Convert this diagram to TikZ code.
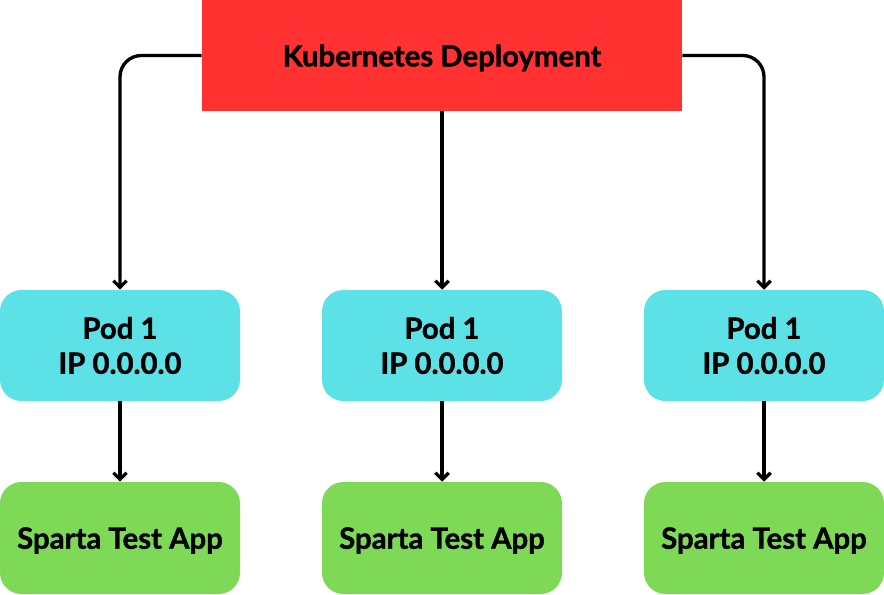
\documentclass[tikz,border=0pt]{standalone}
\usepackage{fontspec}
\setmainfont{Lato}[BoldFeatures={FakeBold=1.2}]
\usetikzlibrary{arrows.meta}
\definecolor{deployred}{HTML}{FF3131}
\definecolor{podcyan}{HTML}{5CE1E6}
\definecolor{appgreen}{HTML}{7ED957}
\tikzset{>={Straight Barb[length=5pt,width=10pt]}}

\begin{document}
\begin{tikzpicture}[x=0.75pt,y=-0.75pt,
  every node/.style={font=\bfseries\fontsize{22}{26.25}\selectfont,align=center,inner sep=0pt},
  deploy/.style={fill=deployred,text depth=0pt,minimum width=360pt,minimum height=83.25pt},
  pod/.style={fill=podcyan,rounded corners=16pt,minimum width=180pt,minimum height=83.25pt},
  app/.style={fill=appgreen,text depth=0pt,rounded corners=16pt,minimum width=180pt,minimum height=84pt},
  link/.style={->,line width=2.5pt}]
\useasboundingbox (0,0) rectangle (884,594);
\node[deploy] (dep) at (442,55.5) {Kubernetes Deployment};
\foreach \x/\n in {120/1,442/2,764/3}{
  \node[pod] (pod\n) at (\x,345.5) {Pod 1\\IP 0.0.0.0};
  \node[app] (app\n) at (\x,538) {Sparta Test App};
  \draw[link] (pod\n) -- (app\n);
}
\draw[link,rounded corners=16pt] (dep.west) -| (pod1.north);
\draw[link] (dep.south) -- (pod2.north);
\draw[link,rounded corners=16pt] (dep.east) -| (pod3.north);
\end{tikzpicture}
\end{document}
